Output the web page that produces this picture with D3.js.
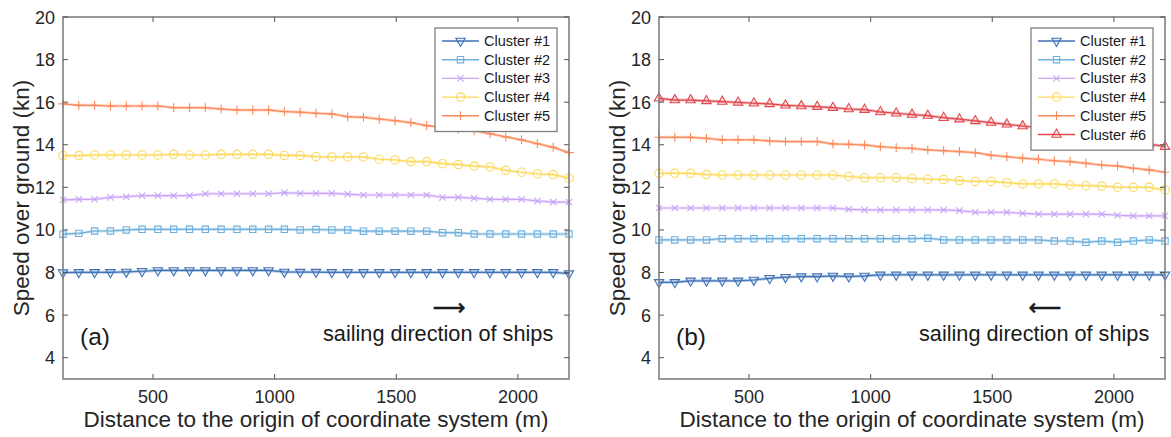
<!DOCTYPE html>
<html>
<head>
    <meta charset="utf-8">
    <title>Speed over ground by cluster</title>
    <script src="https://cdnjs.cloudflare.com/ajax/libs/d3/7.8.5/d3.min.js"></script>
    <style>
        body {
            margin: 0;
            background-color: white;
            font-family: "Liberation Sans", Arial, sans-serif;
        }

        .tick-label {
            font-size: 18px;
            fill: #262626;
        }

        .axis-title {
            font-size: 22.5px;
            fill: #262626;
        }

        .legend-text {
            font-size: 14.5px;
            fill: #1a1a1a;
        }
    </style>
</head>

<body>
    <svg id="chart" width="1171" height="437"></svg>

    <script>
        // distance along the channel (m)
        const distances = [130, 195, 260, 325, 390, 455, 520, 585, 650, 715, 780, 845, 910, 975, 1040,
            1105, 1170, 1235, 1300, 1365, 1430, 1495, 1560, 1625, 1690, 1755, 1820, 1885, 1950, 2015,
            2080, 2145, 2210];

        const xTicks = [500, 1000, 1500, 2000];
        const yTicks = [4, 6, 8, 10, 12, 14, 16, 18, 20];

        // panel (a)
        const a1 = [8.00, 8.01, 8.01, 8.01, 8.03, 8.06, 8.10, 8.10, 8.10, 8.10, 8.10, 8.10, 8.10, 8.10, 8.03,
            8.02, 8.02, 8.01, 8.01, 8.01, 8.01, 8.01, 8.01, 8.01, 8.01, 8.01, 8.01, 8.01, 8.01, 8.01,
            8.01, 8.01, 7.95];
        const a2 = [9.80, 9.84, 9.95, 9.95, 10.00, 10.03, 10.03, 10.03, 10.03, 10.03, 10.03, 10.03, 10.03, 10.03, 10.03,
            10.00, 10.02, 10.00, 10.00, 9.94, 9.94, 9.94, 9.94, 9.94, 9.87, 9.87, 9.81, 9.81, 9.81, 9.81,
            9.81, 9.81, 9.81];
        const a3 = [11.41, 11.44, 11.44, 11.53, 11.56, 11.61, 11.61, 11.61, 11.61, 11.70, 11.70, 11.70, 11.70, 11.70, 11.75,
            11.72, 11.72, 11.72, 11.68, 11.64, 11.64, 11.64, 11.64, 11.64, 11.53, 11.53, 11.49, 11.44, 11.44, 11.44,
            11.36, 11.31, 11.31];
        const a4 = [13.49, 13.49, 13.52, 13.52, 13.52, 13.52, 13.52, 13.55, 13.52, 13.52, 13.55, 13.55, 13.55, 13.55, 13.50,
            13.50, 13.44, 13.43, 13.43, 13.43, 13.32, 13.29, 13.21, 13.21, 13.11, 13.07, 13.00, 12.96, 12.80, 12.71,
            12.63, 12.60, 12.43];
        const a5 = [15.92, 15.85, 15.85, 15.82, 15.82, 15.82, 15.82, 15.74, 15.74, 15.74, 15.68, 15.63, 15.63, 15.63, 15.56,
            15.53, 15.48, 15.45, 15.32, 15.29, 15.21, 15.13, 15.04, 14.90, 14.82, 14.74, 14.66, 14.52, 14.37, 14.23,
            14.05, 13.88, 13.63];

        // panel (b)
        const b1 = [7.54, 7.54, 7.61, 7.61, 7.61, 7.61, 7.65, 7.73, 7.78, 7.81, 7.81, 7.84, 7.81, 7.84, 7.89,
            7.89, 7.89, 7.89, 7.89, 7.89, 7.89, 7.89, 7.89, 7.89, 7.89, 7.89, 7.89, 7.89, 7.89, 7.89,
            7.89, 7.89, 7.89];
        const b2 = [9.53, 9.53, 9.53, 9.53, 9.59, 9.59, 9.59, 9.59, 9.59, 9.59, 9.59, 9.59, 9.59, 9.59, 9.59,
            9.59, 9.59, 9.61, 9.53, 9.53, 9.53, 9.53, 9.53, 9.53, 9.53, 9.48, 9.48, 9.42, 9.48, 9.42,
            9.48, 9.53, 9.48];
        const b3 = [11.03, 11.03, 11.03, 11.03, 11.03, 11.03, 11.03, 11.03, 11.03, 11.03, 11.03, 11.03, 10.97, 10.94, 10.94,
            10.94, 10.94, 10.94, 10.94, 10.91, 10.83, 10.83, 10.83, 10.78, 10.74, 10.74, 10.74, 10.74, 10.74, 10.69,
            10.66, 10.66, 10.66];
        const b4 = [12.66, 12.66, 12.66, 12.60, 12.58, 12.58, 12.58, 12.58, 12.58, 12.58, 12.58, 12.58, 12.51, 12.45, 12.45,
            12.45, 12.42, 12.38, 12.37, 12.32, 12.28, 12.28, 12.22, 12.16, 12.16, 12.16, 12.11, 12.08, 12.06, 12.01,
            12.00, 12.00, 11.88];
        const b5 = [14.35, 14.35, 14.35, 14.30, 14.23, 14.23, 14.23, 14.18, 14.15, 14.15, 14.15, 14.04, 14.02, 13.99, 13.91,
            13.86, 13.83, 13.76, 13.72, 13.68, 13.63, 13.51, 13.44, 13.37, 13.32, 13.25, 13.21, 13.13, 13.05, 13.00,
            12.90, 12.82, 12.71];
        const b6 = [16.18, 16.10, 16.10, 16.06, 16.03, 15.99, 15.95, 15.92, 15.85, 15.82, 15.79, 15.74, 15.68, 15.65, 15.54,
            15.48, 15.42, 15.37, 15.27, 15.20, 15.12, 15.04, 14.96, 14.88, 14.80, 14.70, 14.60, 14.50, 14.40, 14.28,
            14.16, 14.04, 13.91];

        const clusterNames = ["Cluster #1", "Cluster #2", "Cluster #3", "Cluster #4", "Cluster #5", "Cluster #6"];
        const clusterColors = ["#3f72b6", "#6eb0dc", "#c9a4f7", "#fbd95c", "#fb8a5c", "#e0484c"];
        const clusterMarkers = ["tridown", "square", "x", "circle", "plus", "triup"];

        const panels = [
            { left: 63, label: "(a)", arrow: "\u27F6", series: [a1, a2, a3, a4, a5] },
            { left: 659, label: "(b)", arrow: "\u27F5", series: [b1, b2, b3, b4, b5, b6] }
        ];

        const plotW = 506, plotTop = 17, plotBottom = 379;
        const svg = d3.select("#chart");

        function markerPath(type) {
            if (type === "tridown") return d3.symbol(d3.symbolTriangle, 38)();
            if (type === "triup") return d3.symbol(d3.symbolTriangle, 38)();
            if (type === "square") return d3.symbol(d3.symbolSquare, 40)();
            if (type === "x") return "M-3.2,-3.2L3.2,3.2M-3.2,3.2L3.2,-3.2";
            if (type === "plus") return "M-4.5,0L4.5,0M0,-4.5L0,4.5";
            return null;
        }

        function drawMarker(g, type, color) {
            if (type === "circle") {
                g.append("circle").attr("r", 4.2)
                    .attr("fill", "none").attr("stroke", color).attr("stroke-width", 1.1);
                return;
            }
            const p = g.append("path").attr("d", markerPath(type))
                .attr("fill", "none").attr("stroke", color).attr("stroke-width", 1.1);
            if (type === "tridown") p.attr("transform", "rotate(180)");
            if (type === "tridown" || type === "triup") p.attr("fill", color).attr("fill-opacity", 0.12);
        }

        panels.forEach(panel => {
            const x = d3.scaleLinear().domain([130, 2210]).range([panel.left, panel.left + plotW]);
            const y = d3.scaleLinear().domain([3, 20]).range([plotBottom, plotTop]);
            const g = svg.append("g");

            // data lines and markers
            panel.series.forEach((vals, k) => {
                const color = clusterColors[k];
                const pts = vals.map((v, i) => [distances[i], v]);
                const line = d3.line().x(d => x(d[0])).y(d => y(d[1]));
                g.append("path").datum(pts).attr("d", line)
                    .attr("fill", "none").attr("stroke", color).attr("stroke-opacity", 0.35)
                    .attr("stroke-width", 3);
                g.append("path").datum(pts).attr("d", line)
                    .attr("fill", "none").attr("stroke", color).attr("stroke-width", 1.2);
                pts.forEach(d => {
                    const m = g.append("g").attr("transform", `translate(${x(d[0])},${y(d[1])})`);
                    drawMarker(m, clusterMarkers[k], color);
                });
            });

            // box and ticks
            g.append("rect").attr("x", panel.left).attr("y", plotTop)
                .attr("width", plotW).attr("height", plotBottom - plotTop)
                .attr("fill", "none").attr("stroke", "#7f7f7f").attr("stroke-width", 1.6);

            yTicks.forEach(t => {
                g.append("line").attr("x1", panel.left).attr("x2", panel.left + 5)
                    .attr("y1", y(t)).attr("y2", y(t)).attr("stroke", "#555").attr("stroke-width", 1);
                g.append("line").attr("x1", panel.left + plotW - 5).attr("x2", panel.left + plotW)
                    .attr("y1", y(t)).attr("y2", y(t)).attr("stroke", "#555").attr("stroke-width", 1);
                g.append("text").attr("class", "tick-label")
                    .attr("x", panel.left - 8).attr("y", y(t) + 6.5)
                    .attr("text-anchor", "end").text(t);
            });

            xTicks.forEach(t => {
                g.append("line").attr("x1", x(t)).attr("x2", x(t))
                    .attr("y1", plotBottom).attr("y2", plotBottom - 5).attr("stroke", "#555").attr("stroke-width", 1);
                g.append("line").attr("x1", x(t)).attr("x2", x(t))
                    .attr("y1", plotTop).attr("y2", plotTop + 5).attr("stroke", "#555").attr("stroke-width", 1);
                g.append("text").attr("class", "tick-label")
                    .attr("x", x(t)).attr("y", 403)
                    .attr("text-anchor", "middle").text(t);
            });

            // axis titles
            g.append("text").attr("class", "axis-title")
                .attr("x", panel.left + plotW / 2).attr("y", 427)
                .attr("text-anchor", "middle")
                .text("Distance to the origin of coordinate system (m)");
            g.append("text").attr("class", "axis-title")
                .attr("transform", `translate(${panel.left - 34},${(plotTop + plotBottom) / 2}) rotate(-90)`)
                .attr("text-anchor", "middle")
                .text("Speed over ground (kn)");

            // annotations
            g.append("text").attr("x", panel.left + 17).attr("y", 345)
                .attr("font-size", 24.5).attr("fill", "#1a1a1a").text(panel.label);
            g.append("text").attr("x", panel.left + 260).attr("y", 341)
                .attr("font-size", 21.7).attr("fill", "#1a1a1a").text("sailing direction of ships");
            g.append("text").attr("x", panel.left + 386).attr("y", 315)
                .attr("font-family", "DejaVu Sans").attr("font-size", 23)
                .attr("stroke", "#1a1a1a").attr("stroke-width", 0.5)
                .attr("text-anchor", "middle").attr("fill", "#1a1a1a").text(panel.arrow);

            // legend
            const n = panel.series.length;
            const lx = panel.left + plotW - 134, ly = 28;
            const lh = 10 + n * 18.7;
            const leg = g.append("g");
            leg.append("rect").attr("x", lx).attr("y", ly).attr("width", 122).attr("height", lh)
                .attr("fill", "white").attr("stroke", "#7f7f7f").attr("stroke-width", 1.3);
            panel.series.forEach((vals, k) => {
                const cy = ly + 13 + k * 18.7;
                leg.append("line").attr("x1", lx + 7).attr("x2", lx + 44)
                    .attr("y1", cy).attr("y2", cy)
                    .attr("stroke", clusterColors[k]).attr("stroke-width", 1.4);
                const m = leg.append("g").attr("transform", `translate(${lx + 25.5},${cy})`);
                drawMarker(m, clusterMarkers[k], clusterColors[k]);
                leg.append("text").attr("class", "legend-text")
                    .attr("x", lx + 49).attr("y", cy + 5).text(clusterNames[k]);
            });
        });
    </script>
</body>
</html>
